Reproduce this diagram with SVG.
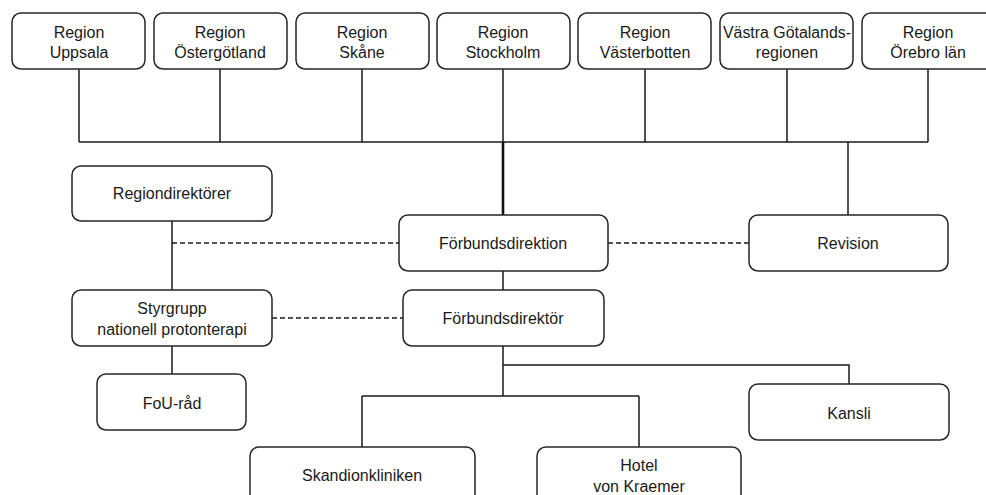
<svg xmlns="http://www.w3.org/2000/svg" width="986" height="495" viewBox="0 0 986 495">
<style>
.box{fill:#fff;stroke:#262626;stroke-width:1.5}
.t{font-family:"Liberation Sans",Arial,sans-serif;font-size:16px;fill:#1a1a1a;text-anchor:middle;dominant-baseline:central}
.ln{fill:none;stroke:#1a1a1a;stroke-width:1.5}
.thick{fill:none;stroke:#111;stroke-width:2.6}
.dash{fill:none;stroke:#1a1a1a;stroke-width:1.5;stroke-dasharray:5 3}
</style>
<rect width="986" height="495" fill="#fff"/>
<g id="connectors">
<path class="ln" d="M79 69V142M220 69V142M362 69V142M503 69V142M645 69V142M787 69V142M928 69V142M79 142H928"/>
<path class="thick" d="M503 142V215"/>
<path class="ln" d="M848 142V215"/>
<path class="ln" d="M172 221V290M172 346V374"/>
<path class="dash" d="M172 243H399M608 243H749M272 318H403"/>
<path class="ln" d="M503 271V290"/>
<path class="ln" d="M503 346V396M503 365H849V384M362 396H639M362 396V447M639 396V447"/>
</g>
<g id="n-uppsala"><rect class="box" x="12" y="13" width="133" height="56" rx="9"/><text class="t" x="79" y="32">Region</text><text class="t" x="79" y="52">Uppsala</text></g>
<g id="n-ostergotland"><rect class="box" x="154" y="13" width="133" height="56" rx="9"/><text class="t" x="220" y="32">Region</text><text class="t" x="220" y="52">Östergötland</text></g>
<g id="n-skane"><rect class="box" x="296" y="13" width="133" height="56" rx="9"/><text class="t" x="362" y="32">Region</text><text class="t" x="362" y="52">Skåne</text></g>
<g id="n-stockholm"><rect class="box" x="437" y="13" width="133" height="56" rx="9"/><text class="t" x="503" y="32">Region</text><text class="t" x="503" y="52">Stockholm</text></g>
<g id="n-vasterbotten"><rect class="box" x="578" y="13" width="133" height="56" rx="9"/><text class="t" x="645" y="32">Region</text><text class="t" x="645" y="52">Västerbotten</text></g>
<g id="n-vgr"><rect class="box" x="720" y="13" width="133" height="56" rx="9"/><text class="t" x="787" y="32" textLength="128" lengthAdjust="spacingAndGlyphs">Västra Götalands-</text><text class="t" x="787" y="52">regionen</text></g>
<g id="n-orebro"><rect class="box" x="862" y="13" width="133" height="56" rx="9"/><text class="t" x="928" y="32">Region</text><text class="t" x="928" y="52">Örebro län</text></g>
<g id="n-regiondirektorer"><rect class="box" x="72" y="166" width="200" height="55" rx="9"/><text class="t" x="172" y="193">Regiondirektörer</text></g>
<g id="n-forbundsdirektion"><rect class="box" x="399" y="215" width="209" height="56" rx="9"/><text class="t" x="503" y="243">Förbundsdirektion</text></g>
<g id="n-revision"><rect class="box" x="749" y="215" width="199" height="56" rx="9"/><text class="t" x="848" y="243">Revision</text></g>
<g id="n-styrgrupp"><rect class="box" x="72" y="290" width="200" height="56" rx="9"/><text class="t" x="172" y="308">Styrgrupp</text><text class="t" x="172" y="329">nationell protonterapi</text></g>
<g id="n-forbundsdirektor"><rect class="box" x="403" y="290" width="201" height="56" rx="9"/><text class="t" x="503" y="318">Förbundsdirektör</text></g>
<g id="n-fou"><rect class="box" x="97" y="374" width="149" height="56" rx="9"/><text class="t" x="172" y="403">FoU-råd</text></g>
<g id="n-kansli"><rect class="box" x="749" y="384" width="200" height="56" rx="9"/><text class="t" x="849" y="413">Kansli</text></g>
<g id="n-skandion"><rect class="box" x="250" y="447" width="225" height="60" rx="9"/><text class="t" x="362" y="475">Skandionkliniken</text></g>
<g id="n-hotel"><rect class="box" x="537" y="447" width="204" height="60" rx="9"/><text class="t" x="639" y="465">Hotel</text><text class="t" x="639" y="486">von Kraemer</text></g>
</svg>
